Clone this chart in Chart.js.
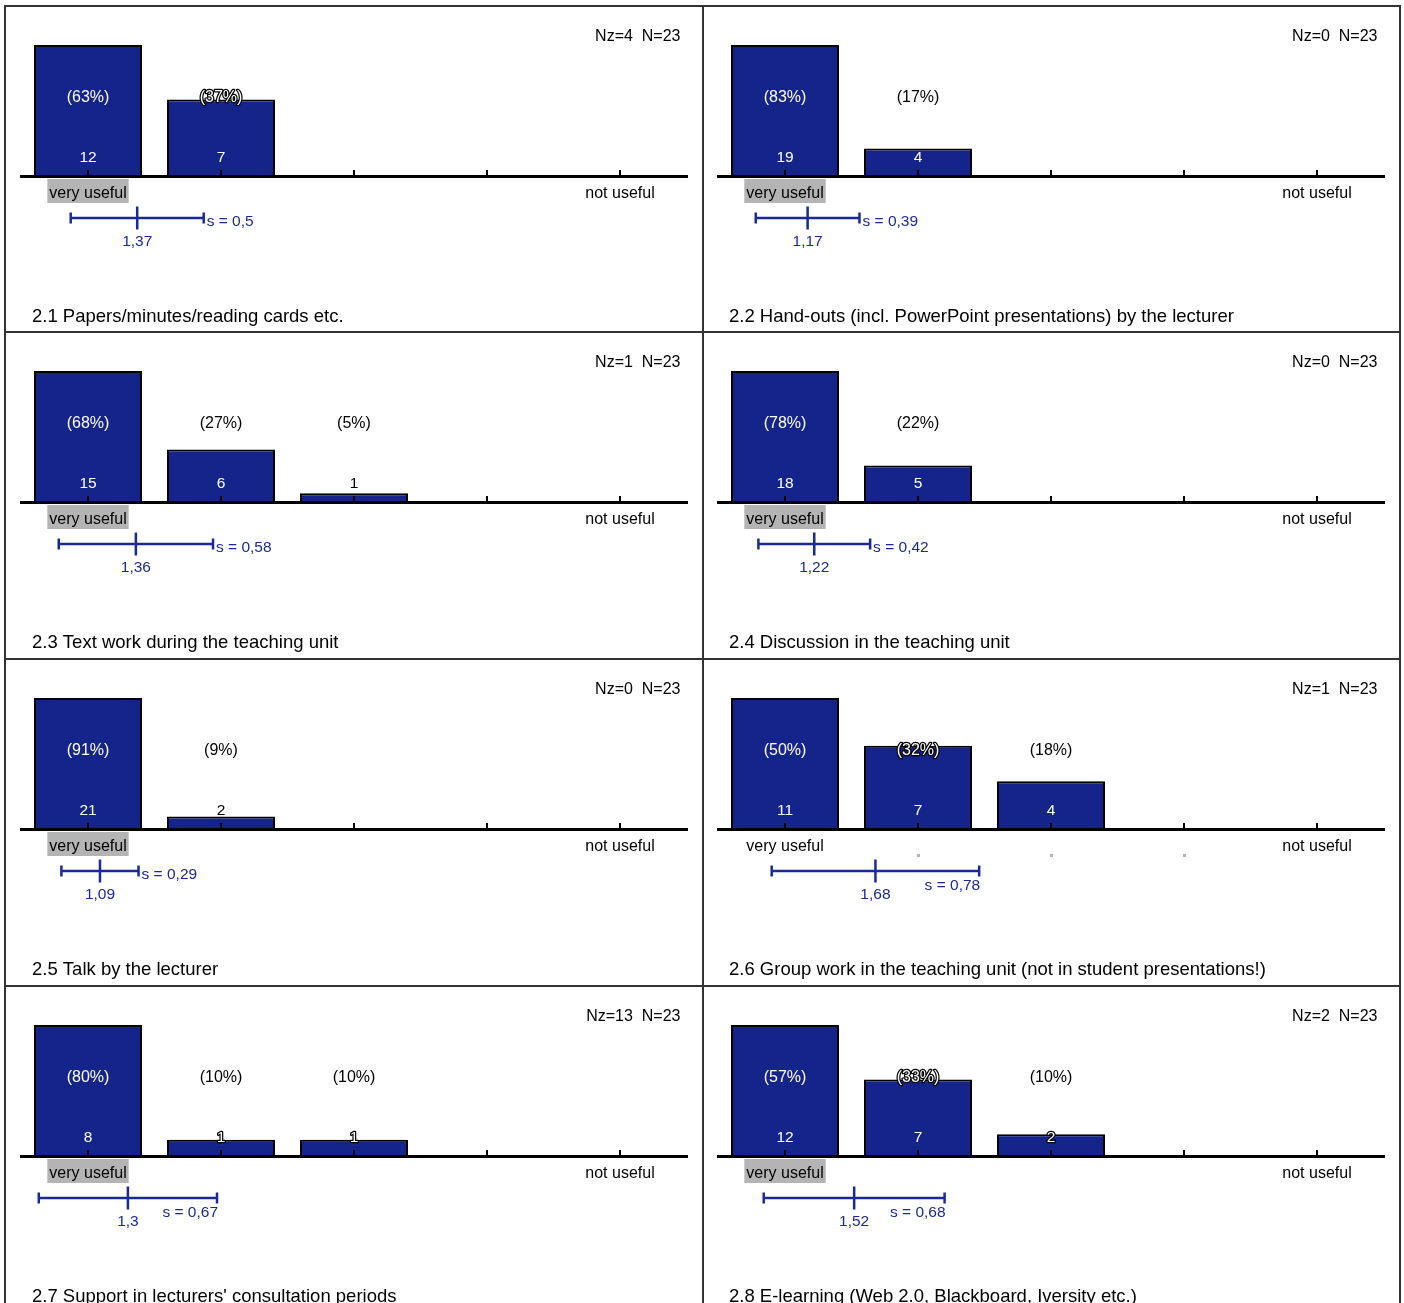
<!DOCTYPE html>
<html><head><meta charset="utf-8">
<script src="https://cdn.jsdelivr.net/npm/chart.js@4.4.1/dist/chart.umd.min.js"></script>
<style>
html,body{margin:0;padding:0;background:#fff;width:1404px;height:1303px;overflow:hidden;}
.panel{position:absolute;width:697px;height:326px;}
.rule{position:absolute;background:#333;}
</style></head><body>
<div id="root"></div>
<script>
// ---- data ----
const categories = ['very useful', '', '', '', 'not useful'];
const panelTitles = [
  '2.1 Papers/minutes/reading cards etc.',
  '2.2 Hand-outs (incl. PowerPoint presentations) by the lecturer',
  '2.3 Text work during the teaching unit',
  '2.4 Discussion in the teaching unit',
  '2.5 Talk by the lecturer',
  '2.6 Group work in the teaching unit (not in student presentations!)',
  '2.7 Support in lecturers\' consultation periods',
  '2.8 E-learning (Web 2.0, Blackboard, Iversity etc.)'
];
const countValues = [
  [12, 7, 0, 0, 0],
  [19, 4, 0, 0, 0],
  [15, 6, 1, 0, 0],
  [18, 5, 0, 0, 0],
  [21, 2, 0, 0, 0],
  [11, 7, 4, 0, 0],
  [8, 1, 1, 0, 0],
  [12, 7, 2, 0, 0]
];
const percentValues = [
  [63, 37, null, null, null],
  [83, 17, null, null, null],
  [68, 27, 5, null, null],
  [78, 22, null, null, null],
  [91, 9, null, null, null],
  [50, 32, 18, null, null],
  [80, 10, 10, null, null],
  [57, 33, 10, null, null]
];
const nzValues = [4, 0, 1, 0, 0, 1, 13, 2];
const nValues = [23, 23, 23, 23, 23, 23, 23, 23];
const meanValues = [1.37, 1.17, 1.36, 1.22, 1.09, 1.68, 1.3, 1.52];
const sdValues = [0.5, 0.39, 0.58, 0.42, 0.29, 0.78, 0.67, 0.68];
const highlightCats = [[0], [0], [0], [0], [0], [1, 2, 3], [0], [0]];

// ---- style ----
const BAR_COLOR = '#15248b';
const BLUE = '#1a2a94';
const FONT = '"Liberation Sans", Arial, Helvetica, sans-serif';

function fmt(v) { return String(v).replace('.', ','); }

function drawSmartLabel(ctx, text, cx, cy, barTop) {
  const m = ctx.measureText(text);
  const top = cy - m.actualBoundingBoxAscent;
  const bot = cy + m.actualBoundingBoxDescent;
  if (bot <= barTop) {
    ctx.fillStyle = '#000';
    ctx.fillText(text, cx, cy);
  } else if (top >= barTop + 1) {
    ctx.fillStyle = '#fff';
    ctx.fillText(text, cx, cy);
  } else {
    ctx.lineWidth = 2.5;
    ctx.lineJoin = 'round';
    ctx.strokeStyle = '#000';
    ctx.strokeText(text, cx, cy);
    ctx.fillStyle = '#fff';
    ctx.fillText(text, cx, cy);
  }
}

const panelPlugin = {
  id: 'panelDeco',
  afterDatasetsDraw(chart) {
    const i = chart.options.plugins.panelDeco.idx;
    const ctx = chart.ctx;
    const ca = chart.chartArea;
    const x = chart.scales.x;
    const meta = chart.getDatasetMeta(0);
    ctx.save();
    // axis line
    ctx.fillStyle = '#000';
    ctx.fillRect(ca.left - 1.5, ca.bottom - 1, ca.width + 3, 3);
    // tick marks
    for (let c = 0; c < categories.length; c++) {
      const px = Math.round(x.getPixelForValue(c));
      ctx.fillRect(px - 1, ca.bottom - 6, 2, 6);
    }
    // value labels
    ctx.textAlign = 'center';
    ctx.textBaseline = 'middle';
    for (let c = 0; c < categories.length; c++) {
      const v = countValues[i][c];
      if (!v) continue;
      const bar = meta.data[c];
      const cx = x.getPixelForValue(c);
      ctx.font = '16px ' + FONT;
      const p = percentValues[i][c];
      if (p !== null) drawSmartLabel(ctx, '(' + p + '%)', cx, ca.top + 53, bar.y);
      ctx.font = '15.5px ' + FONT;
      drawSmartLabel(ctx, String(v), cx, ca.bottom - 18, bar.y);
    }
    // category labels
    ctx.font = '16px ' + FONT;
    for (let c = 0; c < categories.length; c++) {
      const cx = x.getPixelForValue(c);
      const txt = categories[c];
      const hl = highlightCats[i].includes(c);
      if (hl) {
        ctx.fillStyle = '#b4b4b4';
        if (txt) {
          const w = ctx.measureText(txt).width;
          ctx.fillRect(cx - w / 2 - 2, ca.bottom + 3, w + 4, 24);
        } else {
          ctx.fillRect(Math.round(cx) - 1, ca.bottom + 25, 3, 3);
        }
      }
      if (txt) {
        ctx.fillStyle = '#000';
        ctx.fillText(txt, cx, ca.bottom + 18);
      }
    }
    // Nz / N
    ctx.font = '16px ' + FONT;
    ctx.textAlign = 'right';
    ctx.fillStyle = '#000';
    ctx.fillText('Nz=' + nzValues[i] + '  N=' + nValues[i], ca.right - 6, ca.top - 8);
    // title
    ctx.font = '18.5px ' + FONT;
    ctx.textAlign = 'left';
    ctx.fillText(panelTitles[i], ca.left + 10.5, ca.bottom + 141);
    // mean / sd indicator
    const mean = meanValues[i], sd = sdValues[i];
    const xm = x.getPixelForValue(mean - 1);
    const xl = x.getPixelForValue(mean - 1 - sd);
    const xr = x.getPixelForValue(mean - 1 + sd);
    const y = ca.bottom + 42;
    ctx.strokeStyle = BLUE;
    ctx.lineWidth = 2.5;
    ctx.beginPath();
    ctx.moveTo(xl, y); ctx.lineTo(xr, y);
    ctx.moveTo(xl, y - 5.5); ctx.lineTo(xl, y + 5.5);
    ctx.moveTo(xr, y - 5.5); ctx.lineTo(xr, y + 5.5);
    ctx.moveTo(xm, y - 11.5); ctx.lineTo(xm, y + 11.5);
    ctx.stroke();
    ctx.font = '15.5px ' + FONT;
    ctx.fillStyle = BLUE;
    ctx.textAlign = 'center';
    ctx.fillText(fmt(mean), xm, y + 24);
    const sdTxt = 's = ' + fmt(sd);
    const w = ctx.measureText(sdTxt).width;
    if (xr - xm > w + 24) {
      ctx.textAlign = 'right';
      ctx.fillText(sdTxt, xr + 1, y + 15);
    } else {
      ctx.textAlign = 'left';
      ctx.fillText(sdTxt, xr + 3, y + 4);
    }
    ctx.restore();
  }
};

const root = document.getElementById('root');
for (let i = 0; i < 8; i++) {
  const col = i % 2, row = Math.floor(i / 2);
  const div = document.createElement('div');
  div.className = 'panel';
  div.style.left = (5 + col * 697) + 'px';
  div.style.top = Math.floor(6 + row * 326.67) + 'px';
  const cv = document.createElement('canvas');
  cv.width = 697; cv.height = 326;
  cv.style.width = '697px'; cv.style.height = '326px';
  div.appendChild(cv);
  root.appendChild(div);
  new Chart(cv, {
    type: 'bar',
    data: {
      labels: categories,
      datasets: [{
        data: countValues[i],
        backgroundColor: BAR_COLOR,
        borderColor: '#000',
        borderWidth: 2,
        borderSkipped: 'start',
        barPercentage: 0.812,
        categoryPercentage: 1
      }]
    },
    options: {
      responsive: false,
      animation: false,
      devicePixelRatio: 1,
      layout: { padding: { left: 16.5, right: 15.5, top: 39, bottom: 156 } },
      scales: {
        x: { display: false },
        y: { display: false, min: 0, max: Math.max(...countValues[i]) }
      },
      plugins: { legend: { display: false }, tooltip: { enabled: false }, panelDeco: { idx: i } }
    },
    plugins: [panelPlugin]
  });
}
// panel rules
const rules = [
  [4, 5, 1397, 2], [4, 331, 1397, 2], [4, 658, 1397, 2], [4, 985, 1397, 2],
  [4, 5, 2, 1300], [702, 5, 2, 1300], [1399, 5, 2, 1300]
];
for (const r of rules) {
  const d = document.createElement('div');
  d.className = 'rule';
  d.style.left = r[0] + 'px'; d.style.top = r[1] + 'px';
  d.style.width = r[2] + 'px'; d.style.height = r[3] + 'px';
  root.appendChild(d);
}
</script>
</body></html>
